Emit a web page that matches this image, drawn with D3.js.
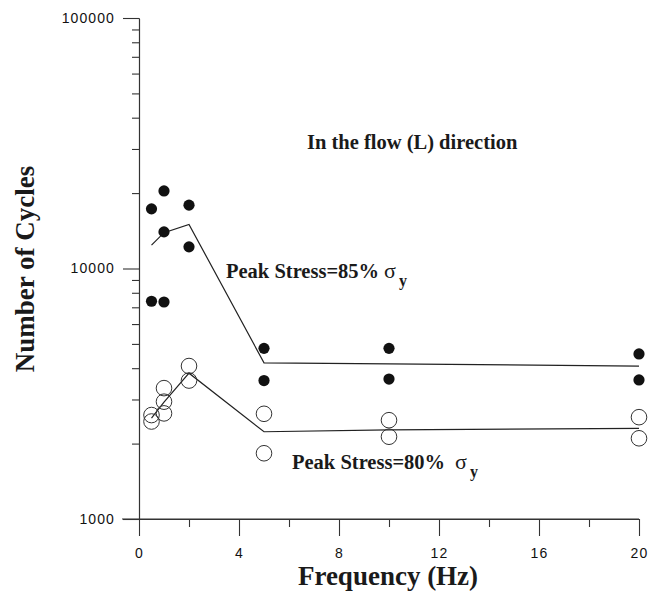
<!DOCTYPE html>
<head>
  <meta charset="UTF-8">
  <title>cycles</title>
  <style>
  body, html, svg{
    padding: 0;
    margin: 0;
  }
  body{
    background: #fff;
  }
  .tick text{
    font-family: "Liberation Sans", Arial, sans-serif;
    font-size: 14px;
    letter-spacing: 1.1px;
    fill: #111;
  }
  .lbl{
    font-family: "Liberation Serif", "Times New Roman", serif;
    font-weight: bold;
    fill: #1a1a1a;
  }
  </style>
</head>
<body>
  <script src="https://cdn.jsdelivr.net/npm/d3@7/dist/d3.min.js"></script>
  <script type="text/javascript">
  var width = 666;
  var height = 593;

  // 数据
  var xMajorTicks = [0, 4, 8, 12, 16, 20];
  var xMinorTicks = [2, 6, 10, 14, 18];
  var yMajorTicks = [1000, 10000, 100000];
  var yMinorTicks = [2000, 3000, 4000, 5000, 6000, 7000, 8000, 9000,
    20000, 30000, 40000, 50000, 60000, 70000, 80000, 90000];

  // 85% sigma_y : measured points
  var freq85 = [0.5, 0.5, 1, 1, 1, 2, 2, 5, 5, 10, 10, 20, 20];
  var cycles85 = [17300, 7400, 20400, 14000, 7350, 17900, 12200, 4800, 3570, 4800, 3620, 4560, 3590];
  // 80% sigma_y : measured points
  var freq80 = [0.5, 0.5, 1, 1, 1, 2, 2, 5, 5, 10, 10, 20, 20];
  var cycles80 = [2600, 2450, 3330, 2940, 2640, 4080, 3570, 2630, 1830, 2480, 2130, 2550, 2100];

  // mean curves
  var lineFreq = [0.5, 1, 2, 5, 10, 20];
  var line85 = [12400, 13900, 15000, 4200, 4160, 4080];
  var line80 = [2530, 2930, 3820, 2230, 2270, 2300];

  var svg = d3.select('body')
    .append('svg')
    .attr('width', width)
    .attr('height', height);

  var x = d3.scaleLinear().domain([0, 20]).range([139, 639]);
  var y = d3.scaleLog().domain([1000, 100000]).range([519, 18]);

  //坐标轴
  var gx = svg.append('g').attr('transform', 'translate(0,519)');
  gx.call(d3.axisBottom(x).tickValues(xMajorTicks).tickSize(17).tickPadding(12)
    .tickFormat(d3.format('d')).tickSizeOuter(0));
  gx.append('g').call(d3.axisBottom(x).tickValues(xMinorTicks).tickSize(8)
    .tickFormat('').tickSizeOuter(0));
  gx.select('.domain').attr('d', 'M122,0H639');

  var gy = svg.append('g').attr('transform', 'translate(139,0)');
  gy.call(d3.axisLeft(y).tickValues(yMajorTicks).tickSize(16).tickPadding(8)
    .tickFormat(d3.format('d')).tickSizeOuter(0));
  gy.append('g').call(d3.axisLeft(y).tickValues(yMinorTicks).tickSize(7)
    .tickFormat('').tickSizeOuter(0));

  svg.selectAll('.domain, .tick line')
    .attr('stroke', '#333')
    .attr('stroke-width', 1.1);

  //曲线
  var line = d3.line()
    .x(function(d){ return x(d[0]); })
    .y(function(d){ return y(d[1]); });

  [line85, line80].forEach(function(vals){
    svg.append('path')
      .datum(lineFreq.map(function(f, i){ return [f, vals[i]]; }))
      .attr('d', line)
      .attr('fill', 'none')
      .attr('stroke', '#222')
      .attr('stroke-width', 1.2);
  });

  //数据点
  svg.append('g')
    .selectAll('circle')
    .data(freq80.map(function(f, i){ return [f, cycles80[i]]; }))
    .enter()
    .append('circle')
    .attr('cx', function(d){ return x(d[0]); })
    .attr('cy', function(d){ return y(d[1]); })
    .attr('r', 7.8)
    .attr('fill', 'none')
    .attr('stroke', '#333')
    .attr('stroke-width', 1);

  svg.append('g')
    .selectAll('circle')
    .data(freq85.map(function(f, i){ return [f, cycles85[i]]; }))
    .enter()
    .append('circle')
    .attr('cx', function(d){ return x(d[0]); })
    .attr('cy', function(d){ return y(d[1]); })
    .attr('r', 5.6)
    .attr('fill', '#111');

  //文字
  svg.append('text')
    .attr('class', 'lbl')
    .attr('x', 388)
    .attr('y', 585)
    .attr('text-anchor', 'middle')
    .style('font-size', '27px')
    .text('Frequency (Hz)');

  svg.append('text')
    .attr('class', 'lbl')
    .attr('transform', 'translate(34,269) rotate(-90)')
    .attr('text-anchor', 'middle')
    .style('font-size', '27px')
    .text('Number of Cycles');

  svg.append('text')
    .attr('class', 'lbl')
    .attr('x', 307)
    .attr('y', 149)
    .style('font-size', '20.5px')
    .text('In the flow (L) direction');

  function stressLabel(tx, ty, pct, gap){
    var t = svg.append('text')
      .attr('class', 'lbl')
      .attr('x', tx)
      .attr('y', ty)
      .style('font-size', '20.5px');
    t.append('tspan').text('Peak Stress=' + pct + '%');
    t.append('tspan')
      .attr('dx', gap)
      .style('font-weight', 'normal')
      .style('font-size', '22px')
      .text('\u03c3');
    t.append('tspan')
      .attr('dx', 3)
      .attr('dy', 8)
      .style('font-size', '16px')
      .text('y');
  }
  stressLabel(226, 278, 85, 5);
  stressLabel(292, 469, 80, 10);
  </script>
</body>
</html>
